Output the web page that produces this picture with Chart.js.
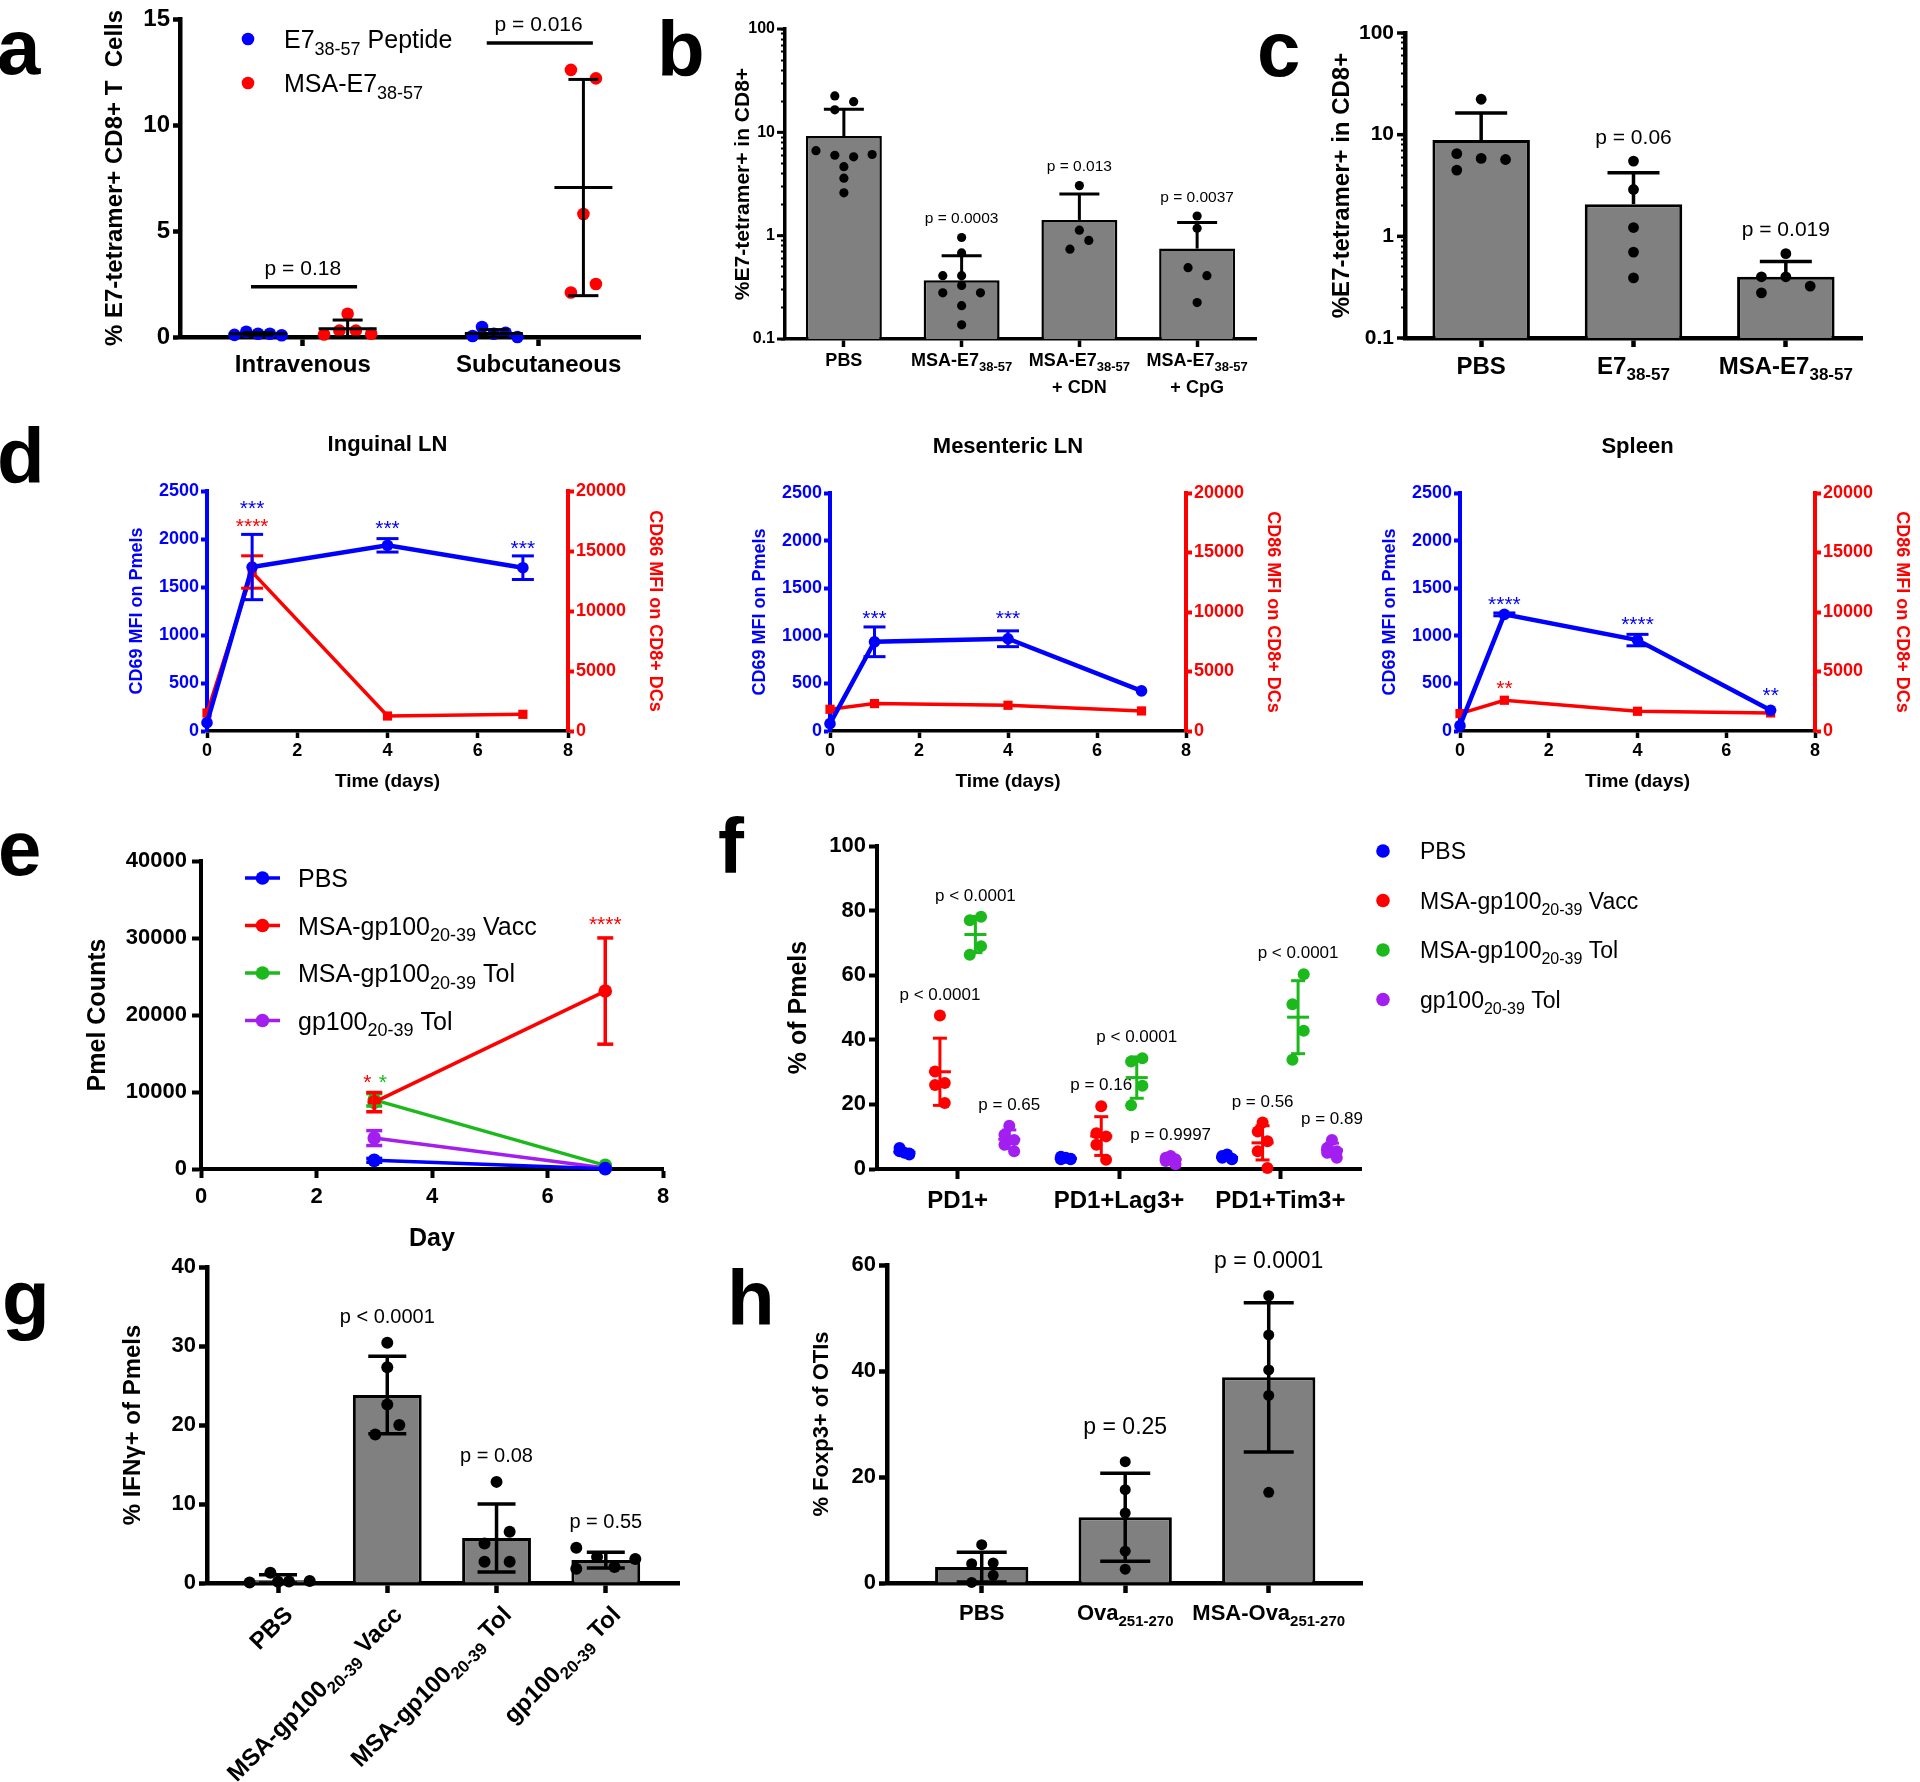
<!DOCTYPE html>
<html>
<head>
<meta charset="utf-8">
<title>MSA vaccine figure</title>
<script src="https://cdn.jsdelivr.net/npm/chart.js@4.4.3/dist/chart.umd.min.js"></script>
<style>
  html, body { margin: 0; padding: 0; background: #fff; }
  body { position: relative; width: 1920px; height: 1782px; overflow: hidden; }
  .letter { position: absolute; font: bold 78px "Liberation Sans", Arial, sans-serif; line-height: 78px; color: #000; }
</style>
</head>
<body>
<div class="letter" style="left:-3px;top:8px">a</div>
<div class="letter" style="left:657px;top:10px">b</div>
<div class="letter" style="left:1257px;top:10px">c</div>
<div class="letter" style="left:-3px;top:417px">d</div>
<div class="letter" style="left:-2px;top:809px">e</div>
<div class="letter" style="left:718px;top:807px">f</div>
<div class="letter" style="left:2px;top:1259px">g</div>
<div class="letter" style="left:727px;top:1259px">h</div>
<script>
const SANS = '"Liberation Sans", Arial, Helvetica, sans-serif';
const BLACK = "#000000";
const BLUE = "#0000ff";
const RED = "#ff0000";
const GREEN = "#1cb91c";
const PURPLE = "#a21ff0";
const GREY = "#808080";

// ---------- a ----------
const aGroups = ["Intravenous", "Subcutaneous"];
const aSeries = ["E7_{38-57} Peptide", "MSA-E7_{38-57}"];
const aPValues = ["p = 0.18", "p = 0.016"];
const aPeptide = [[0.1, 0.25, 0.15, 0.15, 0.08], [0.05, 0.47, 0.15, 0.2, 0.0]];
const aMsa = [[0.12, 1.1, 0.3, 0.3, 0.15], [12.6, 12.2, 5.8, 2.5, 2.1]];
const aPeptideMean = [0.15, 0.17];
const aPeptideSd = [0.06, 0.18];
const aMsaMean = [0.39, 7.05];
const aMsaSd = [0.41, 5.1];
const aPeptideJitter = [[-0.1, -0.05, 0, 0.05, 0.1], [-0.09, -0.05, 0, 0.05, 0.1]];
const aMsaJitter = [[-0.1, 0, -0.035, 0.035, 0.1], [-0.053, 0.053, 0, 0.053, -0.053]];
const aYTitle = "% E7-tetramer+ CD8+ T  Cells";

// ---------- b ----------
const bCats = ["PBS", "MSA-E7_{38-57}", "MSA-E7_{38-57}", "MSA-E7_{38-57}"];
const bCatsLine2 = ["", "", "+ CDN", "+ CpG"];
const bPValues = ["", "p = 0.0003", "p = 0.013", "p = 0.0037"];
const bMean = [9.2, 0.37, 1.42, 0.75];
const bSd = [7.5, 0.27, 1.11, 0.59];
const bPoints = [
  [22.5, 19.8, 16.5, 6.65, 6.0, 5.8, 6.1, 4.65, 3.6, 2.6],
  [0.96, 0.68, 0.41, 0.41, 0.33, 0.28, 0.28, 0.21, 0.137],
  [3.05, 1.13, 0.9, 0.74],
  [1.55, 1.18, 0.49, 0.41, 0.225],
];
const bJitter = [
  [-0.077, 0.083, -0.077, -0.237, -0.077, 0.083, 0.24, 0, 0, 0],
  [0, 0, -0.16, 0, 0, -0.16, 0.16, 0, 0],
  [0, 0, 0.08, -0.08],
  [0, 0, -0.077, 0.083, 0],
];
const bYTitle = "%E7-tetramer+ in CD8+";

// ---------- c ----------
const cCats = ["PBS", "E7_{38-57}", "MSA-E7_{38-57}"];
const cPValues = ["", "p = 0.06", "p = 0.019"];
const cMean = [8.86, 2.07, 0.40];
const cSd = [7.44, 2.15, 0.165];
const cPoints = [[22.3, 6.5, 5.84, 5.7, 4.48], [5.5, 2.89, 1.22, 0.70, 0.39], [0.675, 0.40, 0.40, 0.324, 0.278]];
const cJitter = [[0, -0.16, 0, 0.16, -0.16], [0, 0, 0, 0, 0], [0, -0.16, 0, 0.16, -0.16]];
const cYTitle = "%E7-tetramer+ in CD8+";

const logLabels = ["0.1", "1", "10", "100"];

// ---------- d ----------
const dDays = [0, 1, 4, 7];
const dTitles = ["Inguinal LN", "Mesenteric LN", "Spleen"];
const dCd69 = [[87, 1708, 1934, 1701], [77, 937, 969, 421], [56, 1225, 955, 218]];
const dCd69Sd = [[0, 340, 70, 123], [0, 156, 83, 0], [0, 15, 60, 0]];
const dCd86 = [[1500, 13250, 1250, 1389], [1826, 2303, 2163, 1685], [1461, 2584, 1657, 1517]];
const dCd86Sd = [[0, 1350, 0, 0], [0, 0, 0, 0], [0, 0, 0, 0]];
// significance marks: [day, CD69-axis value, text, colour]
const dStars = [
  [[1, 2368, "***", BLUE], [1, 2184, "****", RED], [4, 2167, "***", BLUE], [7, 1951, "***", BLUE]],
  [[1, 1236, "***", BLUE], [4, 1236, "***", BLUE]],
  [[1, 1387, "****", BLUE], [4, 1173, "****", BLUE], [7, 421, "**", BLUE], [1, 499, "**", RED]],
];

// ---------- e ----------
const eDays = [3, 7];
const eNames = ["PBS", "MSA-gp100_{20-39} Vacc", "MSA-gp100_{20-39} Tol", "gp100_{20-39} Tol"];
const ePbs = [1123, 43];
const eVacc = [8683, 23110];
const eTol = [8985, 475];
const eGp = [4017, 130];
const ePbsSd = [250, 0];
const eVaccSd = [1250, 6900];
const eTolSd = [800, 0];
const eGpSd = [970, 0];
const eStars = [[2.88, 11880, "*", RED], [3.15, 11880, "*", GREEN], [7, 32440, "****", RED]];

// ---------- f ----------
const fCats = ["PD1+", "PD1+Lag3+", "PD1+Tim3+"];
const fNames = ["PBS", "MSA-gp100_{20-39} Vacc", "MSA-gp100_{20-39} Tol", "gp100_{20-39} Tol"];
const fPbs = [[5, 6.5, 4.5, 5.5, 4.8], [3.5, 3, 3.2, 3.8, 3], [4.5, 3.5, 3, 4, 3.2]];
const fVacc = [[47.5, 30.2, 26.6, 26, 20.4], [19.4, 11.1, 10.1, 7.5, 2.9], [14.4, 11.6, 8.6, 5.5, 0.3]];
const fTol = [[78.1, 77, 69, 66.3], [34.3, 33.3, 25.8, 19.7], [60.3, 51, 42.8, 33.8]];
const fGp = [[13.4, 10.6, 9, 7.5, 5.5], [4, 3.5, 3, 2.5, 1.5], [9, 6.5, 5.5, 5, 3.5]];
const fMean = [[5.2, 3.3, 3.6], [30.1, 10.2, 8.1], [72.6, 28.3, 47.0], [9.2, 2.9, 5.9]];
const fSd = [[0.8, 0.35, 0.6], [10.4, 6.0, 5.3], [5.6, 6.4, 11.3], [2.9, 0.9, 2.1]];
const fPVacc = ["p < 0.0001", "p = 0.16", "p = 0.56"];
const fPTol = ["p < 0.0001", "p < 0.0001", "p < 0.0001"];
const fPGp = ["p = 0.65", "p = 0.9997", "p = 0.89"];
const fJitter5 = [0, -0.03, 0.03, -0.03, 0.03];
const fJitter4 = [0.035, -0.035, 0.035, -0.035];

// ---------- g ----------
const gCats = ["PBS", "MSA-gp100_{20-39} Vacc", "MSA-gp100_{20-39} Tol", "gp100_{20-39} Tol"];
const gPValues = ["", "p < 0.0001", "p = 0.08", "p = 0.55"];
const gMean = [0.35, 23.8, 5.7, 2.9];
const gSd = [0.7, 4.9, 4.3, 1.0];
const gPoints = [[1.3, 0.05, 0.2, 0.25, 0.15], [30.4, 27.3, 22.6, 20.0, 18.8], [12.8, 6.5, 5.0, 2.7, 2.7], [4.47, 3.3, 3.04, 2.03, 1.8]];
const gJitter = [[-0.07, -0.26, 0.1, 0.29, 0], [0, 0, 0, 0.11, -0.11], [0, 0.12, -0.11, 0.12, -0.11], [-0.27, -0.08, 0.27, 0.08, -0.27]];

// ---------- h ----------
const hCats = ["PBS", "Ova_{251-270}", "MSA-Ova_{251-270}"];
const hPValues = ["", "p = 0.25", "p = 0.0001"];
const hMean = [3.0, 12.4, 38.8];
const hSd = [2.8, 8.3, 14.1];
const hPoints = [[7.24, 3.65, 3.78, 1.45, 0.1], [22.9, 17.6, 13.2, 6.0, 2.6], [54.2, 46.8, 40.2, 35.4, 17.1]];
const hJitter = [[0, -0.07, 0.08, 0.08, -0.07], [0, 0, 0, 0, 0], [0, 0, 0, 0, 0]];

Chart.defaults.font.family = SANS;
Chart.defaults.color = BLACK;

// ---------- helpers ----------
function mount(box) {
  const wrap = document.createElement("div");
  wrap.style.cssText = `position:absolute;left:${box.x}px;top:${box.y}px;width:${box.w}px;height:${box.h}px;`;
  const canvas = document.createElement("canvas");
  canvas.width = box.w;
  canvas.height = box.h;
  canvas.style.width = box.w + "px";
  canvas.style.height = box.h + "px";
  wrap.appendChild(canvas);
  document.body.appendChild(wrap);
  return canvas;
}

function frame(box, area, hasRight) {
  return {
    padding: { left: 0, top: area.t - box.y, right: hasRight ? 0 : box.x + box.w - area.r, bottom: 0 },
    leftW: area.l - box.x,
    bottomH: box.y + box.h - area.b,
    rightW: hasRight ? box.x + box.w - area.r : 0,
  };
}

function axisLook(color, width, tick) {
  return {
    border: { display: true, color, width },
    grid: { display: true, drawOnChartArea: false, drawTicks: true, tickLength: tick, tickWidth: width, tickColor: color, offset: false },
  };
}

function valueY({ min, max, step, size, width, color = BLACK, line = 4, tick = 8, pad = 4, position = "left" }) {
  return {
    type: "linear", position, min, max, offset: false,
    ...axisLook(color, line, tick),
    ticks: { stepSize: step, color, padding: pad, autoSkip: false, font: { size, weight: "bold" }, callback: (v) => String(v) },
    afterFit(scale) { scale.width = width; },
  };
}

function valueX({ min, max, step, size, height, line = 4, tick = 8, pad = 4 }) {
  return {
    type: "linear", position: "bottom", min, max, offset: false,
    ...axisLook(BLACK, line, tick),
    ticks: { stepSize: step, padding: pad, autoSkip: false, maxRotation: 0, font: { size, weight: "bold" }, callback: (v) => String(v) },
    afterFit(scale) { scale.height = height; },
  };
}

function indexX(count, min, max, height, line = 4, tick = 9) {
  return {
    type: "linear", position: "bottom", min, max, offset: false,
    ...axisLook(BLACK, line, tick),
    ticks: { display: false },
    afterBuildTicks(scale) { scale.ticks = Array.from({ length: count }, (_, i) => ({ value: i })); },
    afterFit(scale) { scale.height = height; },
  };
}

// log axis: short minor marks from the library, major marks lengthened in the overlay
function logY({ size, width, line = 4, tick = 4, pad = 7 }) {
  return {
    type: "logarithmic", position: "left", min: 0.1, max: 100,
    border: { display: true, color: BLACK, width: line },
    grid: { display: true, drawOnChartArea: false, drawTicks: true, tickLength: tick, tickWidth: 2, tickColor: BLACK, offset: false },
    afterBuildTicks(scale) {
      const ticks = [];
      for (const decade of [0.1, 1, 10]) {
        for (let k = 1; k <= 9; k++) ticks.push({ value: +(k * decade).toPrecision(2) });
      }
      ticks.push({ value: 100 });
      scale.ticks = ticks;
    },
    ticks: { padding: pad, autoSkip: false, font: { size, weight: "bold" }, callback: (v) => (logLabels.includes(String(v)) ? String(v) : "") },
    afterFit(scale) { scale.width = width; },
  };
}

function build(box, area, hasRight, type, datasets, makeScales, draw) {
  const f = frame(box, area, hasRight);
  return new Chart(mount(box), {
    type,
    data: { datasets },
    options: {
      responsive: false,
      animation: false,
      devicePixelRatio: 1,
      events: [],
      layout: { padding: f.padding },
      plugins: { legend: { display: false }, tooltip: { enabled: false } },
      scales: makeScales(f),
    },
    plugins: [{
      id: "overlay",
      afterDatasetsDraw(chart) {
        const ctx = chart.ctx;
        ctx.save();
        draw(chart, ctx);
        ctx.restore();
      },
    }],
  });
}

const px = (chart, axis, v) => chart.scales[axis].getPixelForValue(v);

function swarm(groups, jitter, offset = 0) {
  const out = [];
  groups.forEach((vals, g) => vals.forEach((v, k) => out.push({ x: g + offset + jitter[g][k], y: v })));
  return out;
}

function xy(xs, ys) {
  return xs.map((x, i) => ({ x, y: ys[i] }));
}

// text with _{...} subscripts; y is the visual centre of the capitals
function rich(ctx, str, x, y, size, opt = {}) {
  const weight = opt.weight || "bold";
  const align = opt.align || "center";
  const parts = str.split(/_\{([^}]*)\}/);
  const subSize = Math.round(size * 0.7);
  const fontOf = (i) => `${weight} ${i % 2 ? subSize : size}px ${SANS}`;
  let total = 0;
  parts.forEach((p, i) => { ctx.font = fontOf(i); total += ctx.measureText(p).width; });
  let cx = align === "center" ? x - total / 2 : align === "right" ? x - total : x;
  const base = y + size * 0.36;
  ctx.fillStyle = opt.color || BLACK;
  ctx.textAlign = "left";
  ctx.textBaseline = "alphabetic";
  parts.forEach((p, i) => {
    ctx.font = fontOf(i);
    ctx.fillText(p, cx, i % 2 ? base + size * 0.27 : base);
    cx += ctx.measureText(p).width;
  });
}

function rotated(ctx, str, x, y, size, angle, opt = {}) {
  ctx.save();
  ctx.translate(x, y);
  ctx.rotate(angle);
  rich(ctx, str, 0, 0, size, opt);
  ctx.restore();
}

function stars(ctx, str, x, y, size, color) {
  ctx.font = `normal ${size}px ${SANS}`;
  ctx.fillStyle = color;
  ctx.textAlign = "center";
  ctx.textBaseline = "alphabetic";
  ctx.fillText(str, x, y + size * 0.55);
}

function stroke(ctx, pts, color, w) {
  ctx.strokeStyle = color;
  ctx.lineWidth = w;
  ctx.lineCap = "butt";
  ctx.beginPath();
  ctx.moveTo(pts[0], pts[1]);
  for (let i = 2; i < pts.length; i += 2) ctx.lineTo(pts[i], pts[i + 1]);
  ctx.stroke();
}

function errBar(ctx, x, yHi, yLo, cap, color, w, lowerCap = true) {
  stroke(ctx, [x, yHi, x, yLo], color, w);
  stroke(ctx, [x - cap, yHi, x + cap, yHi], color, w);
  if (lowerCap) stroke(ctx, [x - cap, yLo, x + cap, yLo], color, w);
}

function dot(ctx, x, y, r, color) {
  ctx.fillStyle = color;
  ctx.beginPath();
  ctx.arc(x, y, r, 0, Math.PI * 2);
  ctx.fill();
}

function majorLogTicks(chart, ctx, len, w) {
  const left = chart.chartArea.left;
  logLabels.forEach((t) => {
    const y = px(chart, "y", Number(t));
    stroke(ctx, [left - len, y, left, y], BLACK, w);
  });
}

// ---------- panel a ----------
const A_OFF = 0.19;
build({ x: 0, y: 0, w: 660, h: 400 }, { l: 180, t: 19, r: 640, b: 337 }, false, "scatter", [
  { data: swarm(aPeptide, aPeptideJitter, -A_OFF), backgroundColor: BLUE, borderWidth: 0, pointRadius: 6.3, clip: false },
  { data: swarm(aMsa, aMsaJitter, A_OFF), backgroundColor: RED, borderWidth: 0, pointRadius: 6.3, clip: false },
], (f) => ({
  x: indexX(aGroups.length, -0.521, 1.43, f.bottomH, 4.5, 9),
  y: valueY({ min: 0, max: 15, step: 5, size: 24, width: f.leftW, line: 4.5, tick: 7, pad: 3 }),
}), (chart, ctx) => {
  const a = chart.chartArea;
  [[aPeptideMean, aPeptideSd, -A_OFF], [aMsaMean, aMsaSd, A_OFF]].forEach(([mean, sd, off]) => {
    mean.forEach((m, g) => {
      const x = px(chart, "x", g + off);
      errBar(ctx, x, px(chart, "y", m + sd[g]), px(chart, "y", Math.max(0, m - sd[g])), 15, BLACK, 3);
      stroke(ctx, [x - 29, px(chart, "y", m), x + 29, px(chart, "y", m)], BLACK, 3);
    });
  });
  aGroups.forEach((name, g) => {
    const top = Math.max(...aPeptide[g], ...aMsa[g]);
    const yb = px(chart, "y", top) - 27;
    stroke(ctx, [px(chart, "x", g - 0.22), yb, px(chart, "x", g + 0.23), yb], BLACK, 3.5);
    rich(ctx, aPValues[g], px(chart, "x", g), yb - 19, 21, { weight: "normal" });
    rich(ctx, name, px(chart, "x", g), a.bottom + 26, 24);
  });
  [BLUE, RED].forEach((c, i) => {
    dot(ctx, a.left + 68, a.top + 20 + i * 44, 6.3, c);
    rich(ctx, aSeries[i], a.left + 104, a.top + 20 + i * 44, 25, { weight: "normal", align: "left" });
  });
  rotated(ctx, aYTitle, a.left - 67, (a.top + a.bottom) / 2, 24, -Math.PI / 2);
});

// ---------- panel b ----------
build({ x: 700, y: 0, w: 570, h: 410 }, { l: 785, t: 29, r: 1256, b: 339 }, false, "bar", [
  { type: "bar", data: xy(bMean.map((_, i) => i), bMean), backgroundColor: GREY, borderColor: BLACK, borderWidth: 2.5, categoryPercentage: 1, barPercentage: 0.645, order: 2 },
  { type: "scatter", data: swarm(bPoints, bJitter), backgroundColor: BLACK, borderWidth: 0, pointRadius: 4.6, clip: false, order: 1 },
], (f) => ({
  x: indexX(bCats.length, -0.5, bCats.length - 0.5, f.bottomH, 3.5, 8),
  y: logY({ size: 16, width: f.leftW, line: 3.5, tick: 4, pad: 6 }),
}), (chart, ctx) => {
  const a = chart.chartArea;
  majorLogTicks(chart, ctx, 8, 3);
  bMean.forEach((m, i) => {
    const x = px(chart, "x", i);
    errBar(ctx, x, px(chart, "y", m + bSd[i]), px(chart, "y", m), 20, BLACK, 3, false);
    if (bPValues[i]) rich(ctx, bPValues[i], x, px(chart, "y", Math.max(...bPoints[i], m + bSd[i])) - 20, 15.5, { weight: "normal" });
    rich(ctx, bCats[i], x, a.bottom + 21, 18);
    if (bCatsLine2[i]) rich(ctx, bCatsLine2[i], x, a.bottom + 48, 18);
  });
  rotated(ctx, bYTitle, a.left - 44, (a.top + a.bottom) / 2, 21, -Math.PI / 2);
});

// ---------- panel c ----------
build({ x: 1270, y: 0, w: 650, h: 410 }, { l: 1405, t: 33, r: 1862, b: 338 }, false, "bar", [
  { type: "bar", data: xy(cMean.map((_, i) => i), cMean), backgroundColor: GREY, borderColor: BLACK, borderWidth: 3, categoryPercentage: 1, barPercentage: 0.64, order: 2 },
  { type: "scatter", data: swarm(cPoints, cJitter), backgroundColor: BLACK, borderWidth: 0, pointRadius: 5.4, clip: false, order: 1 },
], (f) => ({
  x: indexX(cCats.length, -0.5, cCats.length - 0.5, f.bottomH, 4.5, 9),
  y: logY({ size: 21, width: f.leftW, line: 4.5, tick: 4, pad: 7 }),
}), (chart, ctx) => {
  const a = chart.chartArea;
  majorLogTicks(chart, ctx, 8, 3.5);
  cMean.forEach((m, i) => {
    const x = px(chart, "x", i);
    errBar(ctx, x, px(chart, "y", m + cSd[i]), px(chart, "y", m), 26, BLACK, 3.5, false);
    if (cPValues[i]) rich(ctx, cPValues[i], x, px(chart, "y", Math.max(...cPoints[i], m + cSd[i])) - 25, 21, { weight: "normal" });
    rich(ctx, cCats[i], x, a.bottom + 27, 24);
  });
  rotated(ctx, cYTitle, a.left - 65, (a.top + a.bottom) / 2, 24, -Math.PI / 2);
});

// ---------- panel d ----------
const dBoxes = [{ x: 60, y: 400, w: 650, h: 400 }, { x: 710, y: 400, w: 600, h: 400 }, { x: 1330, y: 400, w: 590, h: 400 }];
const dAreas = [{ l: 207, t: 491, r: 568, b: 731 }, { l: 830, t: 493, r: 1186, b: 731 }, { l: 1460, t: 493, r: 1815, b: 731 }];
dTitles.forEach((title, k) => {
  build(dBoxes[k], dAreas[k], true, "line", [
    { data: xy(dDays, dCd69[k]), yAxisID: "y", borderColor: BLUE, backgroundColor: BLUE, borderWidth: 4.5, pointRadius: 5.8, pointBorderWidth: 0, clip: false, order: 1 },
    { data: xy(dDays, dCd86[k]), yAxisID: "y2", borderColor: RED, backgroundColor: RED, borderWidth: 3.5, pointStyle: "rect", pointRadius: 6.5, pointBorderWidth: 0, clip: false, order: 2 },
  ], (f) => ({
    x: valueX({ min: 0, max: 8, step: 2, size: 18, height: f.bottomH, line: 3.5, tick: 7, pad: 2 }),
    y: valueY({ min: 0, max: 2500, step: 500, size: 18, width: f.leftW, color: BLUE, line: 4, tick: 6, pad: 2 }),
    y2: valueY({ min: 0, max: 20000, step: 5000, size: 18, width: f.rightW, color: RED, line: 4, tick: 6, pad: 2, position: "right" }),
  }), (chart, ctx) => {
    const a = chart.chartArea;
    dDays.forEach((day, i) => {
      const x = px(chart, "x", day);
      if (dCd86Sd[k][i] > 0) errBar(ctx, x, px(chart, "y2", dCd86[k][i] + dCd86Sd[k][i]), px(chart, "y2", dCd86[k][i] - dCd86Sd[k][i]), 11, RED, 3);
      if (dCd69Sd[k][i] > 0) errBar(ctx, x, px(chart, "y", dCd69[k][i] + dCd69Sd[k][i]), px(chart, "y", dCd69[k][i] - dCd69Sd[k][i]), 11, BLUE, 3);
    });
    dStars[k].forEach(([day, v, t, c]) => stars(ctx, t, px(chart, "x", day), px(chart, "y", v), 21, c));
    const mid = (a.top + a.bottom) / 2;
    rich(ctx, title, (a.left + a.right) / 2, a.top - 48, 22);
    rotated(ctx, "CD69 MFI on Pmels", a.left - 71, mid, 18, -Math.PI / 2, { color: BLUE });
    rotated(ctx, "CD86 MFI on CD8+ DCs", a.right + 88, mid, 18, Math.PI / 2, { color: RED });
    rich(ctx, "Time (days)", (a.left + a.right) / 2, a.bottom + 49, 19);
  });
});

// ---------- panel e ----------
const eColors = [BLUE, RED, GREEN, PURPLE];
const eSeries = [ePbs, eVacc, eTol, eGp];
const eSds = [ePbsSd, eVaccSd, eTolSd, eGpSd];
build({ x: 40, y: 820, w: 680, h: 440 }, { l: 201, t: 861, r: 663, b: 1169 }, false, "line",
  eSeries.map((vals, s) => ({
    data: xy(eDays, vals), borderColor: eColors[s], backgroundColor: eColors[s], borderWidth: 3.5,
    pointRadius: 6.8, pointBorderWidth: 0, clip: false, order: s,
  })),
  (f) => ({
    x: valueX({ min: 0, max: 8, step: 2, size: 22, height: f.bottomH, line: 4, tick: 9, pad: 6 }),
    y: valueY({ min: 0, max: 40000, step: 10000, size: 22, width: f.leftW, line: 4, tick: 9, pad: 5 }),
  }), (chart, ctx) => {
    const a = chart.chartArea;
    for (let s = eSeries.length - 1; s >= 0; s--) {
      eDays.forEach((day, i) => {
        const sd = eSds[s][i];
        if (sd > 0) errBar(ctx, px(chart, "x", day), px(chart, "y", eSeries[s][i] + sd), px(chart, "y", eSeries[s][i] - sd), 8, eColors[s], 3.5);
      });
    }
    eStars.forEach(([day, v, t, c]) => stars(ctx, t, px(chart, "x", day), px(chart, "y", v), 21, c));
    eNames.forEach((name, s) => {
      const y = a.top + 17 + s * 47.5;
      stroke(ctx, [a.left + 44, y, a.left + 79, y], eColors[s], 3.5);
      dot(ctx, a.left + 61.5, y, 6.8, eColors[s]);
      rich(ctx, name, a.left + 97, y, 25, { weight: "normal", align: "left" });
    });
    rotated(ctx, "Pmel Counts", a.left - 105, (a.top + a.bottom) / 2, 25, -Math.PI / 2);
    rich(ctx, "Day", (a.left + a.right) / 2, a.bottom + 68, 25);
  });

// ---------- panel f ----------
const fSeries = [fPbs, fVacc, fTol, fGp];
const fColors = [BLUE, RED, GREEN, PURPLE];
const fPLabels = [null, fPVacc, fPTol, fPGp];
const F_OFF = [-0.33, -0.11, 0.11, 0.32];
build({ x: 740, y: 820, w: 1180, h: 420 }, { l: 877, t: 846, r: 1361, b: 1169 }, false, "scatter",
  fSeries.map((groups, s) => ({
    data: swarm(groups, groups.map((g) => (g.length === 4 ? fJitter4 : fJitter5)), F_OFF[s]),
    backgroundColor: fColors[s], borderWidth: 0, pointRadius: 6, clip: false,
  })),
  (f) => ({
    x: indexX(fCats.length, -0.5, fCats.length - 0.5, f.bottomH, 4, 10),
    y: valueY({ min: 0, max: 100, step: 20, size: 22, width: f.leftW, line: 4, tick: 8, pad: 3 }),
  }), (chart, ctx) => {
    const a = chart.chartArea;
    fSeries.forEach((groups, s) => {
      groups.forEach((vals, c) => {
        const x = px(chart, "x", c + F_OFF[s]);
        const m = fMean[s][c];
        const sd = fSd[s][c];
        errBar(ctx, x, px(chart, "y", m + sd), px(chart, "y", Math.max(0, m - sd)), 7, fColors[s], 3);
        stroke(ctx, [x - 11, px(chart, "y", m), x + 11, px(chart, "y", m)], fColors[s], 3);
        if (fPLabels[s]) rich(ctx, fPLabels[s][c], x, px(chart, "y", Math.max(...vals)) - 22, 17, { weight: "normal" });
      });
    });
    fCats.forEach((name, c) => rich(ctx, name, px(chart, "x", c), a.bottom + 30, 24));
    fNames.forEach((name, s) => {
      const y = a.top + 5 + s * 49.5;
      dot(ctx, a.right + 22, y, 6.8, fColors[s]);
      rich(ctx, name, a.right + 59, y, 23, { weight: "normal", align: "left" });
    });
    rotated(ctx, "% of Pmels", a.left - 80, (a.top + a.bottom) / 2, 25, -Math.PI / 2);
  });

// ---------- panel g ----------
build({ x: 40, y: 1240, w: 680, h: 542 }, { l: 207, t: 1267, r: 679, b: 1583 }, false, "bar", [
  { type: "bar", data: xy(gMean.map((_, i) => i), gMean), backgroundColor: GREY, borderColor: BLACK, borderWidth: 3, categoryPercentage: 1, barPercentage: 0.63, order: 2 },
  { type: "scatter", data: swarm(gPoints, gJitter), backgroundColor: BLACK, borderWidth: 0, pointRadius: 6, clip: false, order: 1 },
], (f) => ({
  x: indexX(gCats.length, -0.65, 3.67, f.bottomH, 4.5, 10),
  y: valueY({ min: 0, max: 40, step: 10, size: 22, width: f.leftW, line: 4.5, tick: 8, pad: 3 }),
}), (chart, ctx) => {
  const a = chart.chartArea;
  gMean.forEach((m, i) => {
    const x = px(chart, "x", i);
    errBar(ctx, x, px(chart, "y", m + gSd[i]), px(chart, "y", Math.max(0, m - gSd[i])), 19, BLACK, 3.5);
    if (gPValues[i]) rich(ctx, gPValues[i], x, px(chart, "y", Math.max(...gPoints[i], m + gSd[i])) - 27, 20, { weight: "normal" });
    rotated(ctx, gCats[i], x + 10, a.bottom + 27, 24, -Math.PI / 4, { align: "right" });
  });
  rotated(ctx, "% IFN\u03b3+ of Pmels", a.left - 76, (a.top + a.bottom) / 2, 24, -Math.PI / 2);
});

// ---------- panel h ----------
build({ x: 760, y: 1240, w: 660, h: 420 }, { l: 887, t: 1265, r: 1362, b: 1583 }, false, "bar", [
  { type: "bar", data: xy(hMean.map((_, i) => i), hMean), backgroundColor: GREY, borderColor: BLACK, borderWidth: 3, categoryPercentage: 1, barPercentage: 0.65, order: 2 },
  { type: "scatter", data: swarm(hPoints, hJitter), backgroundColor: BLACK, borderWidth: 0, pointRadius: 5.5, clip: false, order: 1 },
], (f) => ({
  x: indexX(hCats.length, -0.66, 2.65, f.bottomH, 4.5, 10),
  y: valueY({ min: 0, max: 60, step: 20, size: 22, width: f.leftW, line: 4.5, tick: 8, pad: 3 }),
}), (chart, ctx) => {
  const a = chart.chartArea;
  hMean.forEach((m, i) => {
    const x = px(chart, "x", i);
    errBar(ctx, x, px(chart, "y", m + hSd[i]), px(chart, "y", Math.max(0, m - hSd[i])), 25, BLACK, 3.5);
    if (hPValues[i]) rich(ctx, hPValues[i], x, px(chart, "y", Math.max(...hPoints[i], m + hSd[i])) - 36, 23, { weight: "normal" });
    rich(ctx, hCats[i], x, a.bottom + 29, 22);
  });
  rotated(ctx, "% Foxp3+ of OTIs", a.left - 67, (a.top + a.bottom) / 2, 22, -Math.PI / 2);
});
</script>
</body>
</html>
